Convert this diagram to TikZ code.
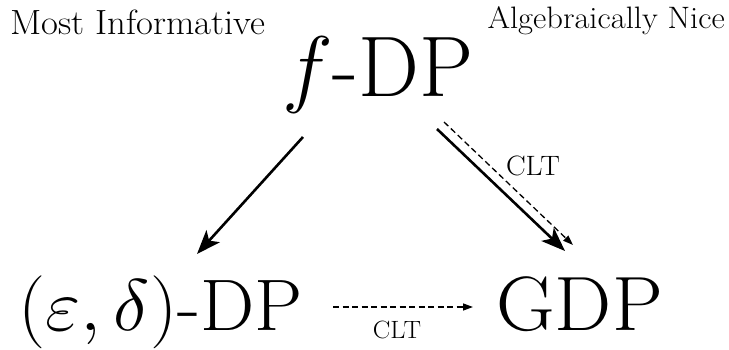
\RequirePackage{fix-cm}
\documentclass[tikz,border=0pt]{standalone}
\usetikzlibrary{arrows.meta}
\newcommand{\xs}[1]{\scalebox{1.05}[1]{#1}}
\begin{document}
\begin{tikzpicture}[x=1pt,y=-1pt,
  lbl/.style={inner sep=0pt},
  solidarrow/.style={line width=2.6pt, -{Stealth[length=24pt,width=18pt,inset=6pt]}},
  dasharrow/.style={line width=1.3pt, dash pattern=on 6pt off 3.5pt, -{Triangle[length=10pt,width=7pt]}}]
\useasboundingbox (0,0) rectangle (729,350);
\node[lbl, anchor=base west] (mi) at (10,35) {\xs{\fontsize{35}{35}\selectfont Most Informative}};
\node[lbl, anchor=base east] (an) at (725,29) {\xs{\fontsize{31}{31}\selectfont Algebraically Nice}};
\node[lbl, anchor=base] (fdp) at (378,97) {\fontsize{86}{86}\selectfont $f$-DP};
\node[lbl, anchor=base west] (edp) at (18,330) {\xs{\fontsize{73}{73}\selectfont $(\varepsilon,\delta)$-DP}};
\node[lbl, anchor=base west] (gdp) at (496,330) {\xs{\fontsize{77}{77}\selectfont GDP}};
\coordinate (s1) at (303,137);
\coordinate (e1) at (197,254);
\coordinate (s2) at (437,129);
\coordinate (e2) at (565,251);
\coordinate (s3) at (444,122);
\coordinate (e3) at (573,245);
\coordinate (s4) at (333,307);
\coordinate (e4) at (473,307);
\draw[solidarrow] (s1) -- (e1);
\draw[solidarrow] (s2) -- (e2);
\draw[dasharrow] (s3) -- (e3);
\draw[dasharrow] (s4) -- (e4);
\node[lbl, anchor=base] (clt1) at (533,176) {\xs{\fontsize{28}{28}\selectfont CLT}};
\node[lbl, anchor=base] (clt2) at (397,338) {\xs{\fontsize{25}{25}\selectfont CLT}};
\end{tikzpicture}
\end{document}
